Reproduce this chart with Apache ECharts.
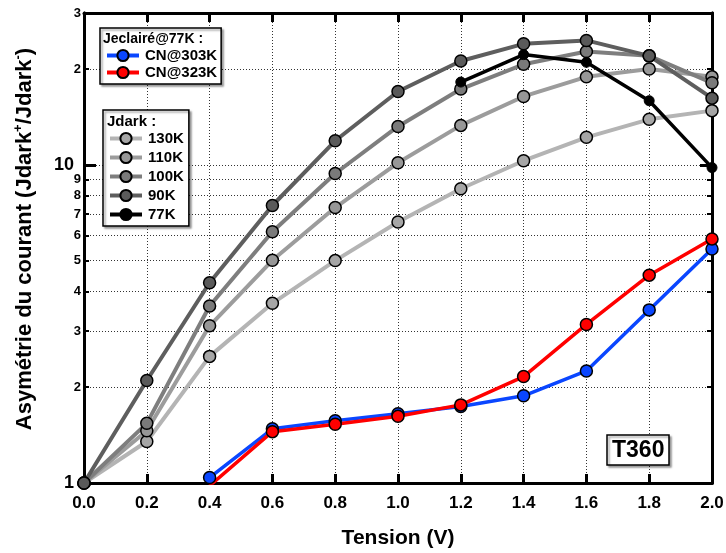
<!DOCTYPE html>
<html>
<head>
<meta charset="utf-8">
<script src="https://cdn.jsdelivr.net/npm/echarts@6/dist/echarts.min.js"></script>
<style>html,body{margin:0;padding:0;background:#fff}#c{width:726px;height:553px}</style>
</head>
<body>
<div id="c"></div>
<script>
// ---- data ----
const xValues = [0.0, 0.2, 0.4, 0.6, 0.8, 1.0, 1.2, 1.4, 1.6, 1.8, 2.0];
const s130K = [1, 1.35, 2.50, 3.67, 5.00, 6.61, 8.41, 10.3, 12.2, 13.9, 14.8];
const s110K = [1, 1.46, 3.12, 5.01, 7.34, 10.15, 13.3, 16.4, 18.9, 20.0, 18.9];
const s100K = [1, 1.54, 3.60, 6.16, 9.39, 13.2, 17.3, 20.7, 22.7, 22.0, 18.1];
const s90K  = [1, 2.10, 4.26, 7.45, 11.9, 17.0, 21.2, 24.0, 24.6, 22.0, 16.2];
const s77K  = [null, null, null, null, null, null, 18.2, 22.2, 21.0, 15.9, 9.8];
const cn303 = [null, null, 1.04, 1.48, 1.57, 1.65, 1.74, 1.88, 2.25, 3.50, 5.44];
const cn323 = [null, null, 0.98, 1.45, 1.53, 1.62, 1.76, 2.16, 3.15, 4.50, 5.85];
const yTickValues = [1, 2, 3, 4, 5, 6, 7, 8, 9, 10, 20, 30];
const yTickLabels = ['1', '2', '3', '4', '5', '6', '7', '8', '9', '10', '2', '3'];
const yMajorValues = [1, 10];
const xTickLabels = ['0.0', '0.2', '0.4', '0.6', '0.8', '1.0', '1.2', '1.4', '1.6', '1.8', '2.0'];

const FONT = "'Liberation Sans', Arial, sans-serif";
const pairs = arr => xValues.map((x, i) => [x, arr[i]]);

function labelFor(v) {
  let best = 0, bd = Infinity;
  yTickValues.forEach((t, i) => { const d = Math.abs(Math.log10(t) - Math.log10(v)); if (d < bd) { bd = d; best = i; } });
  const txt = yTickLabels[best];
  return (yTickValues[best] === 1 || yTickValues[best] === 10) ? '{b|' + txt + '}' : '{s|' + txt + '}';
}

function graySeries(name, data, lineColor, fill) {
  return {
    name, type: 'line', data: pairs(data), symbol: 'circle', symbolSize: 12,
    lineStyle: { color: lineColor, width: 4 },
    itemStyle: { color: fill, borderColor: '#000', borderWidth: 1.5 },
    color: lineColor
  };
}

const chart = echarts.init(document.getElementById('c'), null, { renderer: 'canvas' });
const yBase = { type: 'log', logBase: 10, min: 1, max: 30, axisLine: { show: true, lineStyle: { color: '#000', width: 3 } } };
const legendCommon = {
  orient: 'vertical', itemWidth: 32, itemHeight: 14, borderColor: '#000', borderWidth: 1.5, backgroundColor: '#fff',
  shadowColor: 'rgba(0,0,0,0.35)', shadowOffsetX: 2, shadowOffsetY: 2, shadowBlur: 2,
  lineStyle: { width: 4 },
  textStyle: { fontFamily: FONT, fontSize: 15, fontWeight: 'bold', color: '#000', padding: [0, 0, 0, 1] }
};

chart.setOption({
  animation: false,
  backgroundColor: '#fff',
  textStyle: { fontFamily: FONT },
  grid: { left: 84, right: 14, top: 13, bottom: 70, containLabel: false, outerBoundsMode: 'none' },
  title: [
    { text: 'Jeclairé@77K :', left: 103, top: 32, padding: 0, textStyle: { fontFamily: FONT, fontSize: 14, fontWeight: 'bold', color: '#000' } },
    { text: 'Jdark :', left: 107, top: 114, padding: 0, textStyle: { fontFamily: FONT, fontSize: 15, fontWeight: 'bold', color: '#000' } },
    { text: 'T360', left: 607, top: 435, padding: [4, 5, 3, 5], borderColor: '#000', borderWidth: 1.5, backgroundColor: '#fff',
      shadowColor: 'rgba(0,0,0,0.35)', shadowOffsetX: 2, shadowOffsetY: 2, shadowBlur: 2,
      textStyle: { fontFamily: FONT, fontSize: 23, fontWeight: 'bold', color: '#000' } }
  ],
  legend: [
    Object.assign({}, legendCommon, { data: ['CN@303K', 'CN@323K'], left: 100, top: 28, padding: [20, 4, 4, 5], itemGap: 2 }),
    Object.assign({}, legendCommon, { data: ['130K', '110K', '100K', '90K', '77K'], left: 103, top: 110, padding: [21, 5, 4, 5], itemGap: 4 })
  ],
  xAxis: [
    { type: 'value', min: 0, max: 2, interval: 0.2, position: 'bottom',
      name: 'Tension (V)', nameLocation: 'middle', nameGap: 45,
      nameTextStyle: { fontFamily: FONT, fontSize: 21, fontWeight: 'bold', color: '#000' },
      axisLine: { lineStyle: { color: '#000', width: 3 } },
      axisTick: { inside: true, length: 9, lineStyle: { color: '#000', width: 3 } },
      axisLabel: { margin: 12, fontFamily: FONT, fontSize: 17, fontWeight: 'bold', color: '#000',
        formatter: v => xTickLabels[Math.round(v / 0.2)] },
      splitLine: { show: true, lineStyle: { color: '#333', width: 1, type: [1, 2] } } },
    { type: 'value', min: 0, max: 2, interval: 0.2, position: 'top',
      axisLine: { lineStyle: { color: '#000', width: 3 } },
      axisTick: { inside: true, length: 9, lineStyle: { color: '#000', width: 3 } },
      axisLabel: { show: false }, splitLine: { show: false } }
  ],
  yAxis: [
    Object.assign({}, yBase, { position: 'left',
      name: '{t|Asymétrie du courant (Jdark}{s|+}{t|/Jdark}{s|-}{t|)}', nameLocation: 'middle', nameGap: 46,
      nameTextStyle: { padding: [0, 0, 0, 18], rich: {
        t: { fontFamily: FONT, fontSize: 22, fontWeight: 'bold', color: '#000', lineHeight: 26 },
        s: { fontFamily: FONT, fontSize: 13, fontWeight: 'bold', color: '#000', verticalAlign: 'top', lineHeight: 26 } } },
      axisTick: { inside: true, length: 5, customValues: yTickValues, lineStyle: { color: '#000', width: 2 } },
      axisLabel: { margin: 3, customValues: yTickValues, formatter: labelFor,
        rich: { b: { fontFamily: FONT, fontSize: 18, fontWeight: 'bold', color: '#000', padding: [0, 7, 0, 0] },
                s: { fontFamily: FONT, fontSize: 13, fontWeight: 'bold', color: '#000' } } },
      splitLine: { show: true, lineStyle: { color: '#333', width: 1, type: [1, 2] } } }),
    Object.assign({}, yBase, { position: 'left',
      axisTick: { inside: true, length: 12, customValues: yMajorValues, lineStyle: { color: '#000', width: 3 } },
      axisLabel: { show: false }, splitLine: { show: false } }),
    Object.assign({}, yBase, { position: 'right',
      axisTick: { inside: true, length: 5, customValues: yTickValues, lineStyle: { color: '#000', width: 2 } },
      axisLabel: { show: false }, splitLine: { show: false } }),
    Object.assign({}, yBase, { position: 'right',
      axisTick: { inside: true, length: 12, customValues: yMajorValues, lineStyle: { color: '#000', width: 3 } },
      axisLabel: { show: false }, splitLine: { show: false } })
  ],
  series: [
    graySeries('130K', s130K, '#b4b4b4', '#a6a6a6'),
    graySeries('110K', s110K, '#9c9c9c', '#979797'),
    graySeries('100K', s100K, '#7e7e7e', '#7a7a7a'),
    graySeries('90K', s90K, '#5e5e5e', '#5a5a5a'),
    { name: '77K', type: 'line', data: pairs(s77K), symbol: 'circle', symbolSize: 10,
      lineStyle: { color: '#000', width: 3.5 }, itemStyle: { color: '#000', borderColor: '#000', borderWidth: 1 }, color: '#000' },
    { name: 'CN@303K', type: 'line', data: pairs(cn303), symbol: 'circle', symbolSize: 12, clip: true,
      lineStyle: { color: '#0a46ff', width: 3.5 }, itemStyle: { color: '#0a46ff', borderColor: '#000', borderWidth: 1.5 }, color: '#0a46ff' },
    { name: 'CN@323K', type: 'line', data: pairs(cn323), symbol: 'circle', symbolSize: 12, clip: true,
      lineStyle: { color: '#ff0000', width: 3.5 }, itemStyle: { color: '#ff0000', borderColor: '#000', borderWidth: 1.5 }, color: '#ff0000' }
  ]
});
</script>
</body>
</html>
